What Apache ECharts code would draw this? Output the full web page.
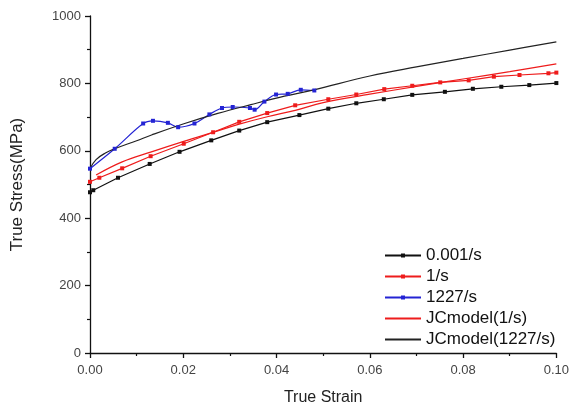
<!DOCTYPE html>
<html>
<head>
<meta charset="utf-8">
<script src="https://cdn.jsdelivr.net/npm/echarts@6/dist/echarts.min.js"></script>
<style>
  html, body { margin: 0; padding: 0; background: #fff; }
  #chart { width: 572px; height: 411px; }
</style>
</head>
<body>
<div id="chart"></div>
<script>
  // 0.001/s test
  const strainQs = [0, 0.0007, 0.006, 0.0128, 0.0192, 0.026, 0.032, 0.038, 0.0449, 0.0511, 0.0571, 0.063, 0.0691, 0.0761, 0.0821, 0.0882, 0.0942, 0.1]
  const stressQs = [477, 483, 520, 561, 597, 631, 660, 685, 706, 725, 741, 753, 766, 775, 784, 790, 795, 801]
  // 1/s test
  const strain1 = [0, 0.002, 0.0069, 0.013, 0.0201, 0.0264, 0.032, 0.038, 0.044, 0.0511, 0.0571, 0.0631, 0.0691, 0.0751, 0.0812, 0.0866, 0.0921, 0.0983, 0.1]
  const stress1 = [508, 520, 548, 584, 621, 655, 686, 712, 735, 753, 767, 783, 793, 803, 809, 820, 825, 830, 832]
  // 1227/s test (SHPB)
  const strain1227 = [0, 0.0053, 0.0114, 0.0135, 0.0167, 0.0189, 0.0224, 0.0256, 0.0283, 0.0306, 0.0343, 0.0353, 0.0374, 0.0399, 0.0424, 0.0452, 0.0481]
  const stress1227 = [547, 606, 681, 689, 683, 670, 681, 708, 727, 730, 727, 722, 746, 767, 769, 781, 779]
  // JC model
  const strainJc1 = [0.0013, 0.0069, 0.013, 0.0201, 0.0274, 0.032, 0.038, 0.044, 0.05, 0.06, 0.07, 0.08, 0.09, 0.1]
  const stressJc1 = [528, 567, 596, 628, 659, 679, 701, 720, 743, 768, 791, 813, 835, 858]
  const strainJc1227 = [0, 0.0013, 0.0034, 0.0053, 0.01, 0.0132, 0.0203, 0.0274, 0.0345, 0.0417, 0.048, 0.06, 0.07, 0.08, 0.09, 0.1]
  const stressJc1227 = [547, 574, 594, 606, 630, 647, 681, 711, 737, 762, 781, 822, 849, 874, 899, 923]

  const names = ['0.001/s', '1/s', '1227/s', 'JCmodel(1/s)', 'JCmodel(1227/s)']
  const xTicks = [0, 0.02, 0.04, 0.06, 0.08, 0.1]

  const zip = (xs, ys) => xs.map((x, i) => [x, ys[i]])
  const font = 'Liberation Sans, Arial, sans-serif'

  const chart = echarts.init(document.getElementById('chart'), null, { renderer: 'canvas' })

  function dataLine(name, data, color, smooth) {
    return {
      name: name,
      type: 'line',
      data: data,
      smooth: smooth,
      symbol: 'rect',
      symbolSize: 4,
      showAllSymbol: true,
      lineStyle: { color: color, width: 1.2 },
      itemStyle: { color: color },
      emphasis: { disabled: true }
    }
  }
  function modelLine(name, data, color) {
    return {
      name: name,
      type: 'line',
      data: data,
      smooth: 0.4,
      symbol: 'none',
      lineStyle: { color: color, width: 1.2 },
      itemStyle: { color: color },
      emphasis: { disabled: true }
    }
  }

  chart.setOption({
    animation: false,
    backgroundColor: '#fff',
    grid: { left: 90, right: 13, top: 16, bottom: 53, containLabel: false },
    legend: {
      orient: 'vertical',
      left: 379,
      top: 242,
      itemWidth: 36,
      itemHeight: 5,
      itemGap: 4,
      data: names.map((n, i) => i < 3 ? { name: n } : { name: n, itemStyle: { opacity: 0 } }),
      textStyle: { fontFamily: font, fontSize: 17, color: '#111', lineHeight: 17 }
    },
    xAxis: {
      type: 'value',
      min: 0,
      max: 0.1,
      interval: 0.02,
      name: 'True Strain',
      nameLocation: 'middle',
      nameGap: 37,
      nameTextStyle: { fontFamily: font, fontSize: 16, color: '#222' },
      axisLine: { onZero: false, lineStyle: { color: '#111', width: 1.3 } },
      axisTick: { show: true, length: 5, lineStyle: { color: '#111', width: 1.3 } },
      minorTick: { show: true, splitNumber: 2, length: 3, lineStyle: { color: '#111', width: 1.2 } },
      axisLabel: {
        fontFamily: font, fontSize: 13, color: '#444', margin: 11,
        formatter: v => xTicks.some(t => Math.abs(t - v) < 1e-9) ? v.toFixed(2) : ''
      },
      splitLine: { show: false }
    },
    yAxis: {
      type: 'value',
      min: 0,
      max: 1000,
      interval: 200,
      name: 'True Stress(MPa)',
      nameLocation: 'middle',
      nameGap: 64,
      nameTextStyle: { fontFamily: font, fontSize: 17, color: '#222' },
      axisLine: { show: true, onZero: false, lineStyle: { color: '#111', width: 1.3 } },
      axisTick: { show: true, length: 5, lineStyle: { color: '#111', width: 1.3 } },
      minorTick: { show: true, splitNumber: 2, length: 3, lineStyle: { color: '#111', width: 1.2 } },
      axisLabel: { fontFamily: font, fontSize: 13, color: '#444', margin: 9, formatter: v => String(v) },
      splitLine: { show: false }
    },
    series: [
      dataLine(names[0], zip(strainQs, stressQs), '#111111', false),
      dataLine(names[1], zip(strain1, stress1), '#ee1c1c', false),
      dataLine(names[2], zip(strain1227, stress1227), '#2424d4', 0.35),
      modelLine(names[3], zip(strainJc1, stressJc1), '#ee1c1c'),
      modelLine(names[4], zip(strainJc1227, stressJc1227), '#222222')
    ]
  })
</script>
</body>
</html>
